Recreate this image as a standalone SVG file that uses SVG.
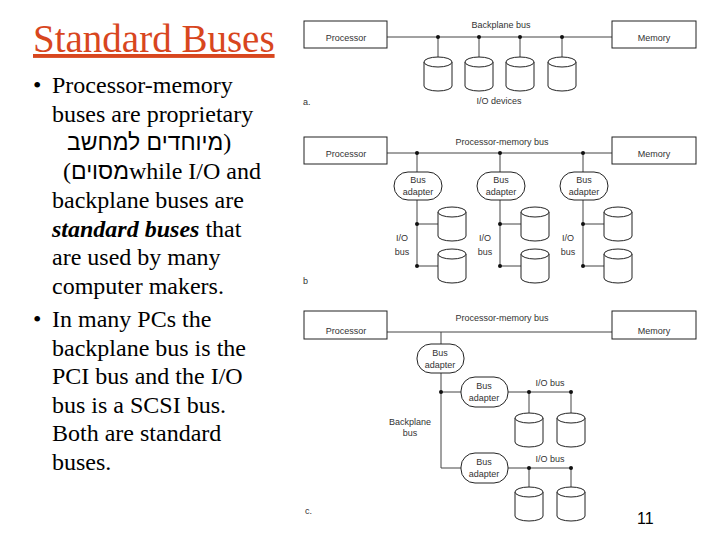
<svg xmlns="http://www.w3.org/2000/svg" xmlns:xlink="http://www.w3.org/1999/xlink" width="720" height="540" viewBox="0 0 720 540">
<style>
.body{font-family:"Liberation Serif","Times New Roman",serif;font-size:24px;fill:#000}
.heb{font-family:"Liberation Sans","DejaVu Sans",sans-serif;font-size:23px}
.lbl{font-family:"Liberation Sans",Arial,sans-serif;font-size:9px;fill:#333}
.box{fill:#fff;stroke:#222;stroke-width:1}
.ad{fill:#fff;stroke:#222;stroke-width:1}
.ln{stroke:#444;stroke-width:1;fill:none}
.dot{fill:#111}
.cyl{fill:#fff;stroke:#222;stroke-width:1}
</style>
<defs>
<g id="cyl">
<path class="cyl" d="M0,5 V29 A14,5 0 0 0 28,29 V5"/>
<ellipse class="cyl" cx="14" cy="5" rx="14" ry="5"/>
</g>
</defs>
<rect width="720" height="540" fill="#fff"/>
<g id="text">
<text x="33" y="52" font-family="Liberation Serif,Times New Roman,serif" font-size="39" fill="#d8461e" text-decoration="underline">Standard Buses</text>
<text class="body" x="33" y="93">•</text>
<text class="body" x="52" y="93">Processor-memory</text>
<text class="body" x="52" y="122">buses are proprietary</text>
<text class="body" x="67" y="150" direction="ltr" unicode-bidi="bidi-override"><tspan class="heb">בשחמל םידחוימ</tspan>)</text>
<text class="body" x="63" y="179" direction="ltr" unicode-bidi="bidi-override">(<tspan class="heb" font-size="21">םיוסמ</tspan>while I/O and</text>
<text class="body" x="52" y="208">backplane buses are</text>
<text class="body" x="52" y="237"><tspan font-weight="bold" font-style="italic">standard buses</tspan> that</text>
<text class="body" x="52" y="265">are used by many</text>
<text class="body" x="52" y="294">computer makers.</text>
<text class="body" x="33" y="327">•</text>
<text class="body" x="52" y="327">In many PCs the</text>
<text class="body" x="52" y="355.5">backplane bus is the</text>
<text class="body" x="52" y="384">PCI bus and the I/O</text>
<text class="body" x="52" y="412.5">bus is a SCSI bus.</text>
<text class="body" x="52" y="441">Both are standard</text>
<text class="body" x="52" y="469.5">buses.</text>
<text x="637" y="524" font-family="Liberation Sans,Arial,sans-serif" font-size="16" fill="#000">11</text>
</g>
<g id="connectors">
<!-- a -->
<line class="ln" x1="387" y1="37" x2="612" y2="37"/>
<path class="ln" d="M438,37V62 M479,37V62 M520,37V62 M562,37V62"/>
<!-- b -->
<line class="ln" x1="387" y1="153" x2="612" y2="153"/>
<path class="ln" d="M417,153V172 M500,153V172 M583,153V172"/>
<path class="ln" d="M417,200V266 M417,224H438 M417,266H438"/>
<path class="ln" d="M500,200V266 M500,224H521 M500,266H521"/>
<path class="ln" d="M583,200V266 M583,224H604 M583,266H604"/>
<!-- c -->
<line class="ln" x1="387" y1="332" x2="612" y2="332"/>
<path class="ln" d="M441,332V344 M441,373V468H461 M441,392H461 M508,392H571 M508,468H571"/>
<path class="ln" d="M529,392V419 M571,392V419 M529,468V493 M571,468V493"/>
</g>
<g id="dots">
<circle class="dot" cx="438" cy="37" r="2"/><circle class="dot" cx="479" cy="37" r="2"/><circle class="dot" cx="520" cy="37" r="2"/><circle class="dot" cx="562" cy="37" r="2"/>
<circle class="dot" cx="417" cy="153" r="2"/><circle class="dot" cx="500" cy="153" r="2"/><circle class="dot" cx="583" cy="153" r="2"/>
<circle class="dot" cx="417" cy="224" r="2"/><circle class="dot" cx="417" cy="266" r="2"/>
<circle class="dot" cx="500" cy="224" r="2"/><circle class="dot" cx="500" cy="266" r="2"/>
<circle class="dot" cx="583" cy="224" r="2"/><circle class="dot" cx="583" cy="266" r="2"/>
<circle class="dot" cx="441" cy="392" r="2"/>
<circle class="dot" cx="529" cy="392" r="2"/><circle class="dot" cx="571" cy="392" r="2"/>
<circle class="dot" cx="529" cy="468" r="2"/><circle class="dot" cx="571" cy="468" r="2"/>
</g>
<!-- Part a -->
<g id="a-processor"><rect class="box" x="304" y="21" width="83" height="27"/><text class="lbl" x="346" y="41" text-anchor="middle">Processor</text></g>
<g id="a-memory"><rect class="box" x="612" y="21" width="84" height="27"/><text class="lbl" x="654" y="41" text-anchor="middle">Memory</text></g>
<g id="a-labels"><text class="lbl" x="501" y="28" text-anchor="middle">Backplane bus</text><text class="lbl" x="499" y="104" text-anchor="middle">I/O devices</text><text class="lbl" x="303" y="105" font-size="8">a.</text></g>
<g id="a-dev1"><use xlink:href="#cyl" x="424" y="57"/></g>
<g id="a-dev2"><use xlink:href="#cyl" x="465" y="57"/></g>
<g id="a-dev3"><use xlink:href="#cyl" x="506" y="57"/></g>
<g id="a-dev4"><use xlink:href="#cyl" x="548" y="57"/></g>
<!-- Part b -->
<g id="b-processor"><rect class="box" x="304" y="137" width="83" height="27"/><text class="lbl" x="346" y="157" text-anchor="middle">Processor</text></g>
<g id="b-memory"><rect class="box" x="612" y="137" width="84" height="27"/><text class="lbl" x="654" y="157" text-anchor="middle">Memory</text></g>
<g id="b-labels"><text class="lbl" x="502" y="145" text-anchor="middle">Processor-memory bus</text><text class="lbl" x="303" y="284" font-size="8">b</text>
<text class="lbl" x="402" y="241" text-anchor="middle">I/O</text><text class="lbl" x="402" y="255" text-anchor="middle">bus</text>
<text class="lbl" x="485" y="241" text-anchor="middle">I/O</text><text class="lbl" x="485" y="255" text-anchor="middle">bus</text>
<text class="lbl" x="568" y="241" text-anchor="middle">I/O</text><text class="lbl" x="568" y="255" text-anchor="middle">bus</text></g>
<g id="b-adapter1"><rect class="ad" x="394" y="172" width="48" height="28" rx="14"/><text class="lbl" x="418" y="183" text-anchor="middle">Bus</text><text class="lbl" x="418" y="195" text-anchor="middle">adapter</text></g>
<g id="b-adapter2"><rect class="ad" x="477" y="172" width="48" height="28" rx="14"/><text class="lbl" x="501" y="183" text-anchor="middle">Bus</text><text class="lbl" x="501" y="195" text-anchor="middle">adapter</text></g>
<g id="b-adapter3"><rect class="ad" x="560" y="172" width="48" height="28" rx="14"/><text class="lbl" x="584" y="183" text-anchor="middle">Bus</text><text class="lbl" x="584" y="195" text-anchor="middle">adapter</text></g>
<g id="b-dev1"><use xlink:href="#cyl" x="438" y="207"/></g>
<g id="b-dev2"><use xlink:href="#cyl" x="438" y="249"/></g>
<g id="b-dev3"><use xlink:href="#cyl" x="521" y="207"/></g>
<g id="b-dev4"><use xlink:href="#cyl" x="521" y="249"/></g>
<g id="b-dev5"><use xlink:href="#cyl" x="604" y="207"/></g>
<g id="b-dev6"><use xlink:href="#cyl" x="604" y="249"/></g>
<!-- Part c -->
<g id="c-processor"><rect class="box" x="304" y="311" width="83" height="28"/><text class="lbl" x="346" y="334" text-anchor="middle">Processor</text></g>
<g id="c-memory"><rect class="box" x="612" y="311" width="84" height="28"/><text class="lbl" x="654" y="334" text-anchor="middle">Memory</text></g>
<g id="c-labels"><text class="lbl" x="502" y="321" text-anchor="middle">Processor-memory bus</text>
<text class="lbl" x="550" y="386" text-anchor="middle">I/O bus</text>
<text class="lbl" x="550" y="462" text-anchor="middle">I/O bus</text>
<text class="lbl" x="410" y="425" text-anchor="middle">Backplane</text><text class="lbl" x="410" y="436" text-anchor="middle">bus</text>
<text class="lbl" x="305" y="514" font-size="8">c.</text></g>
<g id="c-adapter1"><rect class="ad" x="417" y="344" width="47" height="29" rx="14"/><text class="lbl" x="440" y="356" text-anchor="middle">Bus</text><text class="lbl" x="440" y="368" text-anchor="middle">adapter</text></g>
<g id="c-adapter2"><rect class="ad" x="461" y="377" width="47" height="30" rx="14"/><text class="lbl" x="484" y="389" text-anchor="middle">Bus</text><text class="lbl" x="484" y="401" text-anchor="middle">adapter</text></g>
<g id="c-adapter3"><rect class="ad" x="461" y="453" width="47" height="30" rx="14"/><text class="lbl" x="484" y="465" text-anchor="middle">Bus</text><text class="lbl" x="484" y="477" text-anchor="middle">adapter</text></g>
<g id="c-dev1"><use xlink:href="#cyl" x="515" y="413"/></g>
<g id="c-dev2"><use xlink:href="#cyl" x="557" y="413"/></g>
<g id="c-dev3"><use xlink:href="#cyl" x="515" y="487"/></g>
<g id="c-dev4"><use xlink:href="#cyl" x="557" y="487"/></g>
</svg>
